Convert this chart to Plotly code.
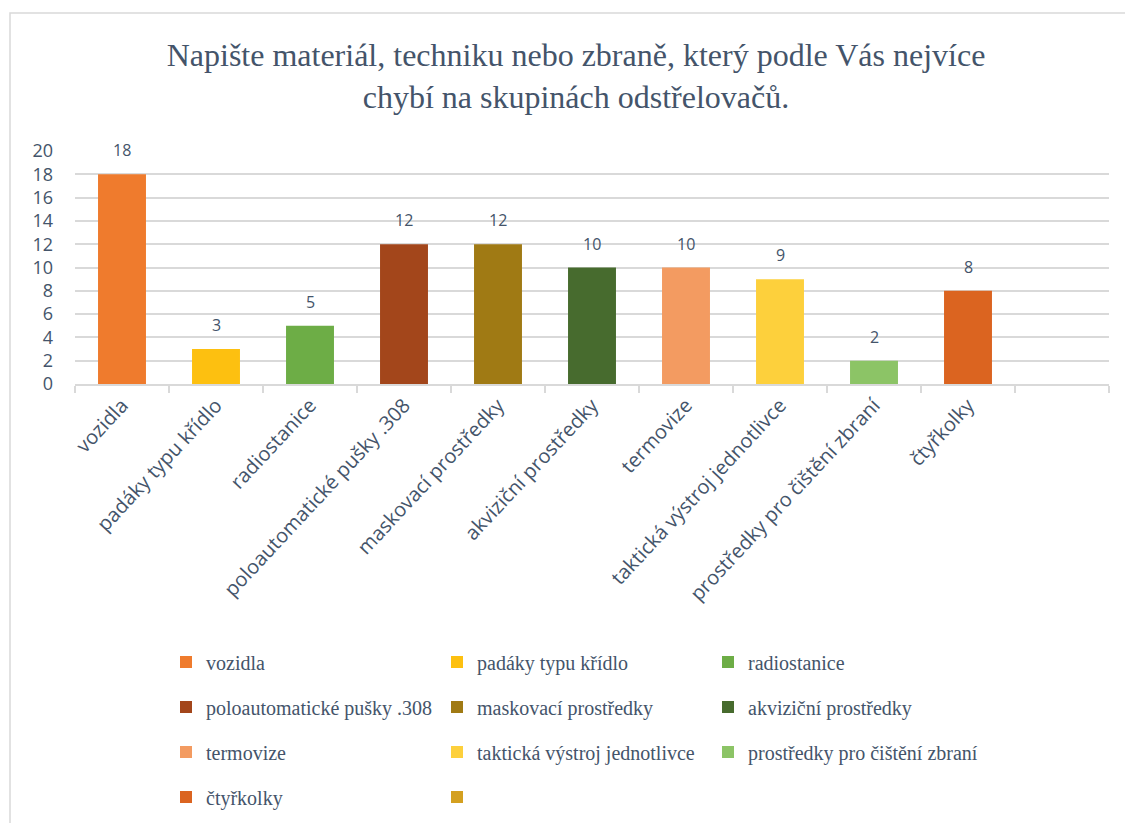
import plotly.graph_objects as go

categories = ["vozidla", "padáky typu křídlo", "radiostanice", "poloautomatické pušky .308",
              "maskovací prostředky", "akviziční prostředky", "termovize",
              "taktická výstroj jednotlivce", "prostředky pro čištění zbraní", "čtyřkolky", " "]
values = [18, 3, 5, 12, 12, 10, 10, 9, 2, 8, None]
colors = ["#EF7B2D", "#FDC010", "#6DAD46", "#A3461B", "#A07A14", "#476B2E",
          "#F39B61", "#FDD03C", "#8CC466", "#DB6420", "#D4A020"]
legend_rows = ["legend", "legend", "legend", "legend2", "legend2", "legend2",
               "legend3", "legend3", "legend3", "legend4", "legend4"]
y_ticks = [0, 2, 4, 6, 8, 10, 12, 14, 16, 18, 20]

TXT = "#44546A"
GRID = "#D9D9D9"
OFF = 8  # page body margin

fig = go.Figure()
for cat, val, col, lg in zip(categories, values, colors, legend_rows):
    fig.add_trace(go.Bar(
        x=[cat], y=[val], name=cat.strip(), marker_color=col,
        marker_line_width=0, width=0.51, legend=lg,
        hoverinfo="x+y",
    ))

for cat, val in zip(categories, values):
    if val is None:
        continue
    fig.add_annotation(x=cat, y=val, text=str(val), showarrow=False, yshift=24,
                       font=dict(family="Open Sans", size=16, color=TXT))

W, H = 1133 - OFF, 823 - OFF
ml, mr, mt, mb = 75 - OFF, 24, 151 - OFF, 439
pw = W - ml - mr
ph = H - mt - mb


def px_x(sx):
    return (sx - OFF - ml) / pw


def px_y(sy):
    return (H - mb - (sy - OFF)) / ph


legend_common = dict(
    orientation="h", xanchor="left", yanchor="middle",
    entrywidth=226, entrywidthmode="pixels",
    font=dict(family="Liberation Serif", size=20, color=TXT),
    bgcolor="rgba(0,0,0,0)", itemclick=False, itemdoubleclick=False,
)
lx = px_x(166)

fig.add_shape(type="rect", xref="paper", yref="paper",
              x0=px_x(10), x1=px_x(1145), y0=px_y(845), y1=px_y(13),
              line=dict(color=GRID, width=1.5), layer="below")

fig.update_layout(
    width=W, height=H,
    margin=dict(l=ml, r=mr, t=mt, b=mb, pad=0, autoexpand=False),
    paper_bgcolor="white", plot_bgcolor="white",
    barmode="overlay",
    title=dict(
        text="Napište materiál, techniku nebo zbraně, který podle Vás nejvíce<br>chybí na skupinách odstřelovačů.",
        font=dict(family="Liberation Serif", size=32, color=TXT),
        x=(576 - OFF) / W, xref="container", xanchor="center",
        y=1 - (66 - OFF) / H, yref="container", yanchor="top",
    ),
    legend=dict(x=lx, y=px_y(662), **legend_common),
    legend2=dict(x=lx, y=px_y(707), **legend_common),
    legend3=dict(x=lx, y=px_y(752), **legend_common),
    legend4=dict(x=lx, y=px_y(797), **legend_common),
    xaxis=dict(
        type="category", categoryorder="array", categoryarray=categories,
        range=[-0.5, len(categories) - 0.5],
        tickson="boundaries", ticks="outside", ticklen=7, tickcolor=GRID, tickwidth=1.5,
        showline=True, linecolor=GRID, linewidth=1.5,
        showgrid=False, tickangle=-47,
        tickfont=dict(family="Open Sans", size=20, color=TXT),
    ),
    yaxis=dict(
        range=[0, 20], tickvals=y_ticks, showgrid=True, gridcolor=GRID, gridwidth=1.5,
        zeroline=False, showline=False, ticks="",
        ticklabelstandoff=21,
        tickfont=dict(family="Open Sans", size=18, color=TXT),
    ),
    showlegend=True,
)

fig.write_html("out.html")
